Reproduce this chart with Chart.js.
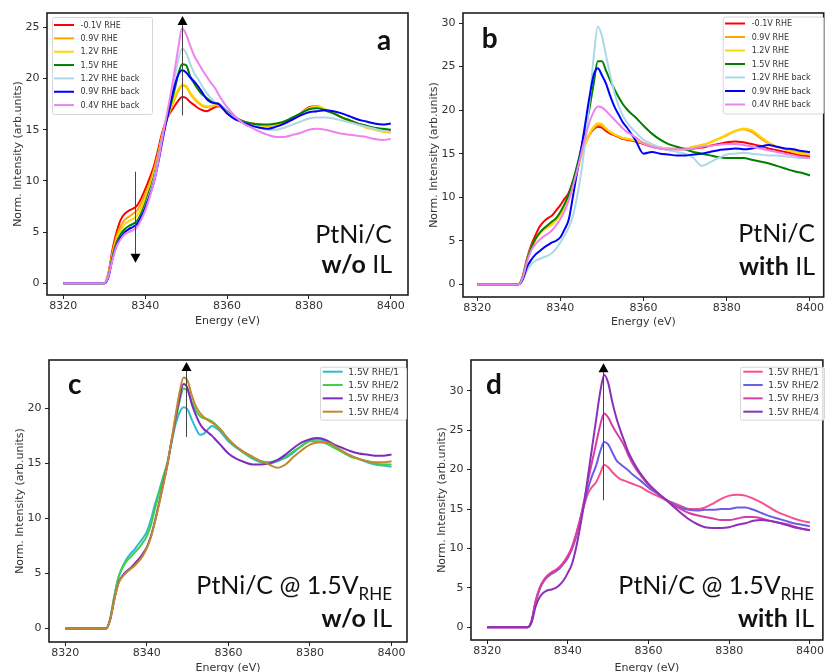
<!DOCTYPE html>
<html><head><meta charset="utf-8">
<script src="https://cdn.jsdelivr.net/npm/chart.js@4.4.1/dist/chart.umd.min.js"></script>
<style>
html,body{margin:0;padding:0;background:#fff;width:825px;height:672px;overflow:hidden;position:relative}
canvas{position:absolute}
</style></head><body>
<canvas id="ca" width="412" height="332" style="left:0;top:0"></canvas>
<canvas id="cb" width="413" height="332" style="left:412px;top:0"></canvas>
<canvas id="cc" width="412" height="345" style="left:0;top:336px"></canvas>
<canvas id="cd" width="413" height="345" style="left:412px;top:336px"></canvas>
<script>
// ---------- data ----------
const energy = [8320,8330,8331,8332,8333,8334,8335,8336,8337,8338,
  8339,8340,8341,8342,8343,8344,8345,8346,8347,8348,
  8349,8350,8351,8352,8353,8354,8355,8356,8357,8358,
  8360,8362,8364,8366,8368,8370,8372,8374,8376,8378,
  8380,8382,8384,8386,8388,8390,8392,8394,8396,8398,
  8400];

const xTicks = [8320, 8340, 8360, 8380, 8400];
const yTicksA = [0, 5, 10, 15, 20, 25];
const yTicksB = [0, 5, 10, 15, 20, 25, 30];
const yTicksC = [0, 5, 10, 15, 20];
const yTicksD = [0, 5, 10, 15, 20, 25, 30];

const abLabels = ['-0.1V RHE', '0.9V RHE', '1.2V RHE', '1.5V RHE', '1.2V RHE back', '0.9V RHE back', '0.4V RHE back'];
const cdLabels = ['1.5V RHE/1', '1.5V RHE/2', '1.5V RHE/3', '1.5V RHE/4'];

// panel a (PtNi/C w/o IL)
const aRed = [0,0,1.0,3.3,5.0,6.2,6.8,7.1,7.3,7.6, 8.3,9.2,10.2,11.3,12.8,14.5,15.8,16.6,17.2,17.8, 18.2,18.1,17.7,17.4,17.1,16.9,16.8,17.0,17.2,17.3, 16.6,16.1,15.8,15.6,15.5,15.4,15.5,15.7,16.0,16.6, 17.2,17.3,16.9,16.6,16.2,15.9,15.6,15.3,15.1,15.0, 14.9];
const aOrange = [0,0,0.9,3.0,4.6,5.6,6.2,6.5,6.8,7.1, 7.8,8.7,9.7,10.9,12.4,14.2,15.7,16.8,17.8,18.7, 19.3,19.2,18.5,18.0,17.6,17.3,17.2,17.3,17.4,17.4, 16.7,16.2,15.8,15.6,15.5,15.4,15.5,15.8,16.1,16.6, 17.1,17.2,16.9,16.6,16.2,15.9,15.6,15.3,15.1,14.9, 14.8];
const aYellow = [0,0,0.8,2.8,4.3,5.2,5.8,6.1,6.3,6.6, 7.3,8.3,9.4,10.6,12.2,14.1,15.7,16.9,18.0,18.9, 19.4,19.3,18.6,18.1,17.7,17.4,17.3,17.3,17.4,17.4, 16.7,16.2,15.8,15.6,15.4,15.4,15.5,15.8,16.1,16.6, 17.1,17.3,17.0,16.6,16.2,15.8,15.5,15.2,15.0,14.8, 14.7];
const aGreen = [0,0,0.7,2.6,4.0,4.8,5.3,5.6,5.8,6.1, 6.8,7.8,9.0,10.2,11.9,13.9,15.6,17.1,18.6,20.3, 21.4,21.3,20.2,19.5,18.9,18.4,18.1,17.8,17.6,17.5, 16.8,16.2,15.8,15.6,15.5,15.5,15.6,15.8,16.2,16.6, 17.0,17.1,16.9,16.6,16.2,15.9,15.6,15.4,15.2,15.1, 15.0];
const aLightBlue = [0,0,0.6,2.4,3.7,4.5,5.0,5.3,5.5,5.8, 6.5,7.5,8.7,10.0,11.8,13.9,15.8,17.6,19.6,21.7, 22.9,22.5,21.4,20.5,19.9,19.2,18.6,18.1,17.7,17.5, 16.7,16.1,15.7,15.4,15.2,15.0,15.0,15.2,15.5,15.8, 16.1,16.2,16.2,16.1,15.9,15.7,15.5,15.3,15.1,14.9, 14.8];
const aBlue = [0,0,0.6,2.4,3.7,4.5,5.0,5.3,5.5,5.8, 6.5,7.4,8.5,9.7,11.4,13.5,15.5,17.3,19.0,20.3, 20.8,20.6,20.1,19.7,19.2,18.6,18.0,17.7,17.6,17.5, 16.6,16.0,15.7,15.4,15.2,15.1,15.3,15.6,16.0,16.4, 16.7,16.8,16.9,16.8,16.6,16.3,16.0,15.8,15.6,15.5, 15.6];
const aViolet = [0,0,0.7,2.3,3.6,4.3,4.8,5.0,5.2,5.5, 6.2,7.1,8.3,9.7,11.5,13.8,15.9,18.0,20.3,22.8, 24.9,24.3,23.2,22.2,21.5,20.8,20.2,19.6,19.1,18.4, 17.2,16.3,15.6,15.2,14.8,14.5,14.3,14.3,14.5,14.7, 15.0,15.1,15.0,14.8,14.6,14.5,14.4,14.3,14.1,14.0, 14.1];

// panel b (PtNi/C with IL)
const bRed = [0,0,1.0,3.0,4.5,5.6,6.6,7.2,7.6,7.9, 8.5,9.1,9.8,10.5,11.8,13.3,15.0,16.3,17.2,17.8, 18.1,18.0,17.6,17.3,17.1,16.9,16.7,16.6,16.5,16.4, 16.1,15.8,15.6,15.5,15.5,15.5,15.6,15.7,15.9,16.1, 16.3,16.4,16.3,16.1,15.9,15.6,15.4,15.2,15.0,14.8, 14.7];
const bOrange = [0,0,0.9,2.8,4.2,5.1,5.8,6.3,6.6,6.9, 7.4,8.0,8.8,9.8,11.2,12.9,14.7,16.1,17.2,17.9, 18.3,18.2,17.8,17.5,17.2,17.0,16.8,16.7,16.6,16.5, 16.2,15.9,15.7,15.6,15.6,15.6,15.8,16.0,16.3,16.7, 17.1,17.6,17.8,17.5,16.8,16.2,15.8,15.5,15.3,15.1, 15.0];
const bYellow = [0,0,0.9,2.8,4.2,5.1,5.8,6.3,6.6,6.9, 7.4,8.0,8.8,9.8,11.2,12.9,14.7,16.1,17.3,18.1, 18.5,18.4,17.9,17.5,17.2,17.0,16.8,16.7,16.6,16.5, 16.2,15.9,15.7,15.6,15.6,15.6,15.8,16.0,16.3,16.7, 17.2,17.6,17.9,17.7,17.0,16.3,15.8,15.5,15.2,15.0, 14.9];
const bGreen = [0,0,0.9,2.8,4.2,5.2,5.9,6.4,6.8,7.2, 7.6,8.3,9.2,10.3,11.8,13.6,15.6,17.8,20.2,23.0, 25.6,25.6,24.5,23.4,22.4,21.5,20.7,20.1,19.6,19.2, 18.2,17.3,16.6,16.1,15.8,15.5,15.2,15.0,14.8,14.6, 14.5,14.5,14.5,14.3,14.1,13.9,13.6,13.3,13.0,12.8, 12.5];
const bLightBlue = [0,0,0.5,1.6,2.3,2.7,2.9,3.1,3.3,3.6, 4.1,4.8,5.6,6.5,7.8,10.0,12.8,16.5,21.0,26.0, 29.6,28.5,26.2,24.0,22.0,20.5,19.4,18.6,18.0,17.5, 16.6,16.1,15.7,15.4,15.2,15.0,14.5,13.6,14.0,14.5, 14.9,15.0,15.1,15.0,14.9,14.8,14.8,14.7,14.6,14.5, 14.5];
const bBlue = [0,0,0.6,2.0,2.8,3.4,3.8,4.2,4.5,4.8, 5.0,5.4,6.3,7.4,10.0,12.8,15.5,18.5,21.5,24.0, 24.8,24.0,23.0,21.6,20.4,19.5,18.6,18.0,17.3,16.6, 15.0,15.2,15.0,14.9,14.8,14.8,14.9,15.0,15.2,15.4, 15.5,15.6,15.5,15.6,15.8,16.0,15.8,15.6,15.5,15.3, 15.2];
const bViolet = [0,0,0.8,2.6,3.9,4.6,5.1,5.5,5.8,6.2, 6.8,7.5,8.4,9.6,11.2,13.0,15.0,16.9,18.6,19.8, 20.4,20.3,19.9,19.4,18.9,18.4,17.9,17.5,17.2,16.9, 16.2,15.8,15.6,15.5,15.5,15.5,15.6,15.8,15.9,16.0, 16.1,16.1,16.0,15.8,15.6,15.4,15.2,15.0,14.8,14.6, 14.5];

// panel c (1.5 V, w/o IL)
const cScan1 = [0,0,0.9,2.9,4.6,5.6,6.3,6.8,7.2,7.7, 8.2,8.8,9.9,11.3,12.5,13.8,15.0,16.8,18.5,19.6, 20.1,19.9,19.0,18.2,17.6,17.7,18.1,18.4,18.2,17.9, 17.0,16.4,15.9,15.4,15.1,15.0,15.2,15.5,16.0,16.6, 17.1,17.2,17.0,16.6,16.1,15.7,15.4,15.1,14.9,14.8, 14.7];
const cScan2 = [0,0,0.9,2.9,4.6,5.5,6.1,6.5,6.9,7.3, 7.8,8.4,9.4,10.9,12.3,13.7,15.0,16.9,18.8,20.6, 21.8,21.6,20.6,19.8,19.3,19.1,19.0,18.8,18.5,18.1, 17.2,16.5,15.9,15.5,15.2,15.1,15.3,15.6,16.1,16.6, 17.0,17.0,16.8,16.4,16.0,15.6,15.4,15.2,15.0,14.9, 14.9];
const cScan3 = [0,0,0.8,2.6,4.1,4.8,5.2,5.5,5.9,6.3, 6.8,7.4,8.4,9.8,11.4,13.1,14.8,16.9,19.0,20.9, 22.2,21.8,20.4,19.4,18.6,18.1,17.8,17.5,17.1,16.7, 15.9,15.4,15.1,14.9,14.9,15.0,15.3,15.8,16.4,16.9, 17.2,17.3,17.1,16.7,16.4,16.1,15.9,15.8,15.7,15.7, 15.8];
const cScan4 = [0,0,0.8,2.6,4.1,4.7,5.1,5.4,5.7,6.1, 6.6,7.3,8.3,9.7,11.3,13.0,14.8,17.0,19.3,21.4, 22.8,22.5,21.2,20.2,19.6,19.2,18.9,18.7,18.4,18.1, 17.2,16.5,16.0,15.6,15.2,14.9,14.6,14.9,15.6,16.2, 16.7,16.9,16.9,16.6,16.1,15.7,15.4,15.2,15.1,15.1, 15.2];

// panel d (1.5 V, with IL)
const dScan1 = [0,0,0.8,3.3,5.0,6.0,6.6,7.0,7.3,7.7, 8.3,9.1,10.2,11.8,13.6,15.4,17.0,17.8,18.4,19.5, 20.6,20.3,19.7,19.2,18.8,18.6,18.4,18.2,18.0,17.8, 17.2,16.7,16.2,15.8,15.4,15.0,15.0,15.2,15.7,16.3, 16.7,16.8,16.7,16.3,15.8,15.2,14.6,14.2,13.8,13.5, 13.3];
const dScan2 = [0,0,0.8,3.2,4.8,5.8,6.4,6.8,7.1,7.5, 8.1,8.8,9.9,11.4,13.5,15.6,17.6,19.2,20.5,22.3, 23.5,23.2,22.2,21.2,20.7,20.3,19.9,19.4,19.0,18.6, 17.7,17.0,16.3,15.7,15.2,14.9,14.8,14.9,14.9,15.0, 15.0,15.2,15.2,14.9,14.5,14.1,13.8,13.5,13.2,13.0, 12.8];
const dScan3 = [0,0,0.8,3.2,4.9,5.9,6.5,6.9,7.2,7.6, 8.2,9.0,10.0,11.6,13.6,16.0,18.6,21.0,23.3,25.6, 27.1,26.6,25.6,24.7,23.9,23.0,21.8,20.8,20.0,19.3, 18.0,17.1,16.3,15.6,15.0,14.5,14.2,14.0,13.8,13.6, 13.6,13.8,14.0,14.0,13.8,13.5,13.3,13.1,12.8,12.5, 12.3];
const dScan4 = [0,0,0.6,2.6,3.8,4.4,4.7,4.8,5.0,5.4, 6.0,6.9,8.0,10.0,12.6,15.6,19.2,22.8,26.3,29.8, 32.0,31.0,28.6,26.6,25.0,23.6,22.2,21.2,20.3,19.5, 18.2,17.2,16.3,15.4,14.5,13.7,13.1,12.7,12.6,12.6, 12.7,13.0,13.2,13.5,13.6,13.5,13.3,13.0,12.7,12.5, 12.3];

// ---------- styles ----------
const abColors = ['#ff0000', '#ffa500', '#ffd700', '#008000', '#add8e6', '#0000ff', '#ee82ee'];
const cColors = ['#31b9d2', '#3ccf4a', '#7b2cbf', '#c4862f'];
const dColors = ['#f7508f', '#6b5ce7', '#d63fa2', '#8d30b8'];

const panels = [
  {id:'ca', series:[aRed,aOrange,aYellow,aGreen,aLightBlue,aBlue,aViolet], labels:abLabels, colors:abColors,
   xMin:8316, xMax:8404.2, yMin:-1.14, yMax:26.4, yTicks:yTicksA,
   yAxisW:47, xAxisH:37, padTop:13, padRight:4, yTitlePad:11.4, xTitlePad:4.4,
   legend:{x:52, y:17, w:100, h:97, row0:25, step:13.35, l0:54, l1:74, tx:80.5, font:8},
   letter:{t:'a', x:377, y:50},
   notes:[{right:392, y:243.3, parts:[{t:'PtNi/C'}]}, {right:392, y:272.7, parts:[{t:'w/o', b:true},{t:' IL'}]}],
   arrows:[{x:8349, from:16.4, to:26.1}, {x:8337.4, from:10.9, to:2.0}]},
  {id:'cb', series:[bRed,bOrange,bYellow,bGreen,bLightBlue,bBlue,bViolet], labels:abLabels, colors:abColors,
   xMin:8316.6, xMax:8403.3, yMin:-1.46, yMax:31.15, yTicks:yTicksB,
   yAxisW:51, xAxisH:35, padTop:13, padRight:1, yTitlePad:15.4, xTitlePad:3.4,
   legend:{x:310.7, y:16.5, w:100.5, h:97, row0:23.5, step:13.5, l0:313, l1:333, tx:339.7, font:8},
   letter:{t:'b', x:69.7, y:48.3},
   notes:[{right:403, y:241.7, parts:[{t:'PtNi/C'}]}, {right:403, y:275, parts:[{t:'with', b:true},{t:' IL'}]}],
   arrows:[]},
  {id:'cc', series:[cScan1,cScan2,cScan3,cScan4], labels:cdLabels, colors:cColors,
   xMin:8316, xMax:8403.8, yMin:-1.22, yMax:24.39, yTicks:yTicksC,
   yAxisW:49, xAxisH:39, padTop:24, padRight:5, yTitlePad:13.4, xTitlePad:6.4,
   legend:{x:320, y:30.7, w:86, h:53, row0:35.7, step:13.33, l0:322.7, l1:342.7, tx:348.3, font:9},
   letter:{t:'c', x:68, y:58},
   notes:[{right:392, y:258, parts:[{t:'PtNi/C @ 1.5V'},{t:'RHE', sub:true}]}, {right:392, y:290.7, parts:[{t:'w/o', b:true},{t:' IL'}]}],
   arrows:[{x:8349.5, from:17.4, to:24.2}]},
  {id:'cd', series:[dScan1,dScan2,dScan3,dScan4], labels:cdLabels, colors:dColors,
   xMin:8316, xMax:8403.2, yMin:-1.61, yMax:33.9, yTicks:yTicksD,
   yAxisW:59, xAxisH:41, padTop:24, padRight:1, yTitlePad:23.4, xTitlePad:6.4,
   legend:{x:328, y:30.7, w:84, h:53, row0:35.7, step:13.33, l0:331.3, l1:350.7, tx:356.3, font:9},
   letter:{t:'d', x:74, y:58},
   notes:[{right:402, y:258, parts:[{t:'PtNi/C @ 1.5V'},{t:'RHE', sub:true}]}, {right:402, y:290.7, parts:[{t:'with', b:true},{t:' IL'}]}],
   arrows:[{x:8348.8, from:16.1, to:33.5}]}
];

const NOTE_SIZE = 25, SUB_SIZE = 17;

const decor = {
  id: 'decor',
  afterDatasetsDraw(chart, args, o) {
    const ctx = chart.ctx, ca = chart.chartArea, xs = chart.scales.x, ys = chart.scales.y;
    ctx.save();
    // arrows
    (o.arrows || []).forEach(a => {
      const px = Math.round(xs.getPixelForValue(a.x)) + 0.5;
      const pb = ys.getPixelForValue(a.from), pt = ys.getPixelForValue(a.to);
      const dir = pt < pb ? -1 : 1;
      const hl = 9, hw = 5;
      ctx.strokeStyle = '#444'; ctx.lineWidth = 1;
      ctx.beginPath(); ctx.moveTo(px, pb); ctx.lineTo(px, pt - dir * hl); ctx.stroke();
      ctx.fillStyle = '#000';
      ctx.beginPath(); ctx.moveTo(px, pt); ctx.lineTo(px - hw, pt - dir * hl); ctx.lineTo(px + hw, pt - dir * hl); ctx.closePath(); ctx.fill();
    });
    // frame
    ctx.strokeStyle = '#1e1e1e'; ctx.lineWidth = 1.6;
    ctx.strokeRect(ca.left, ca.top, ca.right - ca.left, ca.bottom - ca.top);
    // legend
    const L = o.legend;
    ctx.fillStyle = 'rgba(255,255,255,0.85)'; ctx.strokeStyle = '#d6d6d6'; ctx.lineWidth = 1;
    ctx.beginPath();
    if (ctx.roundRect) ctx.roundRect(L.x + 0.5, L.y + 0.5, L.w, L.h, 2); else ctx.rect(L.x + 0.5, L.y + 0.5, L.w, L.h);
    ctx.fill(); ctx.stroke();
    ctx.font = L.font + 'px "DejaVu Sans"'; ctx.textBaseline = 'middle'; ctx.textAlign = 'left';
    chart.data.datasets.forEach((d, i) => {
      const y = L.row0 + i * L.step;
      ctx.strokeStyle = d.borderColor; ctx.lineWidth = 2;
      ctx.beginPath(); ctx.moveTo(L.l0, y); ctx.lineTo(L.l1, y); ctx.stroke();
      ctx.fillStyle = '#333';
      ctx.fillText(d.label, L.tx, y + 0.5);
    });
    // panel letter
    ctx.fillStyle = '#111'; ctx.textBaseline = 'alphabetic';
    ctx.font = 'bold 28px Lato';
    ctx.fillText(o.letter.t, o.letter.x, o.letter.y);
    // notes
    o.notes.forEach(n => {
      const fontOf = p => (p.b ? 'bold ' : '') + (p.sub ? SUB_SIZE : NOTE_SIZE) + 'px Lato';
      let total = 0;
      n.parts.forEach(p => { ctx.font = fontOf(p); total += ctx.measureText(p.t).width; });
      let x = n.right - total;
      n.parts.forEach(p => {
        ctx.font = fontOf(p);
        ctx.fillText(p.t, x, n.y + (p.sub ? 6 : 0));
        x += ctx.measureText(p.t).width;
      });
    });
    ctx.restore();
  }
};

panels.forEach(p => {
  const n = p.series.length;
  const datasets = p.series.map((vals, i) => ({
    label: p.labels[i],
    data: energy.map((e, k) => ({x: e, y: vals[k]})),
    borderColor: p.colors[i],
    backgroundColor: p.colors[i],
    borderWidth: 2,
    pointRadius: 0,
    fill: false,
    cubicInterpolationMode: 'monotone',
    order: n - i
  }));
  const tickFont = {family: 'DejaVu Sans', size: 11};
  new Chart(document.getElementById(p.id), {
    type: 'line',
    data: {datasets},
    plugins: [decor],
    options: {
      responsive: false, animation: false, devicePixelRatio: 1,
      layout: {padding: {top: p.padTop, right: p.padRight, left: 0, bottom: 0}},
      plugins: {legend: {display: false}, tooltip: {enabled: false},
        decor: {legend: p.legend, letter: p.letter, notes: p.notes, arrows: p.arrows}},
      scales: {
        x: {type: 'linear', min: p.xMin, max: p.xMax,
          afterBuildTicks: s => { s.ticks = xTicks.map(v => ({value: v})); },
          afterFit: s => { s.height = p.xAxisH; },
          grid: {display: true, drawOnChartArea: false, drawTicks: true, tickLength: 4, color: '#222', tickColor: '#222'},
          border: {display: false},
          ticks: {font: tickFont, color: '#333', padding: 1, maxRotation: 0, autoSkip: false, callback: v => String(v)},
          title: {display: true, text: 'Energy (eV)', font: tickFont, color: '#333', padding: {top: 0, bottom: p.xTitlePad}}},
        y: {type: 'linear', min: p.yMin, max: p.yMax,
          afterBuildTicks: s => { s.ticks = p.yTicks.map(v => ({value: v})); },
          afterFit: s => { s.width = p.yAxisW; },
          grid: {display: true, drawOnChartArea: false, drawTicks: true, tickLength: 4, color: '#222', tickColor: '#222'},
          border: {display: false},
          ticks: {font: tickFont, color: '#333', padding: 3.5, autoSkip: false, callback: v => String(v)},
          title: {display: true, text: 'Norm. Intensity (arb.units)', font: tickFont, color: '#333', padding: {top: p.yTitlePad, bottom: 0}}}
      }
    }
  });
});
</script>
</body></html>
